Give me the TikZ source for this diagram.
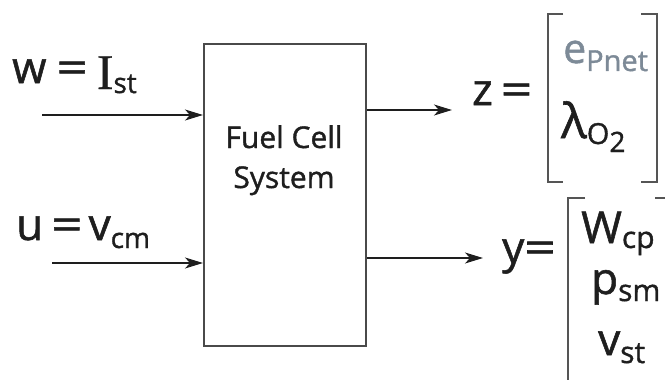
\documentclass[tikz,border=0pt]{standalone}
\usepackage{fontspec}
\setmainfont{Open Sans}[FakeBold=1.2]
\newfontfamily\serfont{Liberation Serif}[FakeBold=0.6]
\usetikzlibrary{arrows.meta}
\usepackage{graphicx}
\definecolor{ink}{HTML}{1E1E1E}
\definecolor{boxgray}{HTML}{4A4A4A}
\definecolor{brgray}{HTML}{555555}
\definecolor{egray}{HTML}{7D8A97}
\newcommand\bigf{\fontsize{44}{44}\selectfont}
\newcommand\subs[3][27]{\raisebox{#2}{\fontsize{#1}{#1}\selectfont #3}}
\newcommand\weq{\scalebox{1.25}[1]{=}}
\begin{document}
\begin{tikzpicture}[x=1pt,y=-1pt,
  lbl/.style={anchor=base west,inner sep=0pt,text=ink,font=\bigf},
  sig/.style={-{Stealth[length=18pt,width=11pt,inset=5pt]},line width=1.5pt,draw=ink},
  brk/.style={draw=brgray,line width=2pt},
  sysbox/.style={draw=boxgray,line width=2pt,minimum width=162pt,minimum height=302pt,inner sep=0pt}]
\useasboundingbox (0,0) rectangle (665,380);
% system block
\node[sysbox] (fcs) at (285,195) {};
\node[anchor=base,inner sep=0pt,text=ink,font=\fontsize{30}{40}\selectfont,align=center] (fcst) at (284,188) {Fuel Cell\\System};
% inputs
\coordinate (win) at (42,115);
\coordinate (uin) at (52,263);
\draw[sig] (win) -- (win -| fcs.west);
\draw[sig] (uin) -- (uin -| fcs.west);
\node[lbl] (wl) at (12,83) {w\hspace{10pt}\weq\hspace{9pt}\raisebox{-6pt}{\serfont\fontsize{50}{50}\selectfont I}\subs[28]{-10pt}{st}};
\node[lbl] (ul) at (16,240) {u\hspace{8pt}\weq\hspace{6pt}v\subs[28]{-8pt}{cm}};
% outputs
\coordinate (zout) at (452,110);
\coordinate (yout) at (483,258);
\draw[sig] (fcs.east |- zout) -- (zout);
\draw[sig] (fcs.east |- yout) -- (yout);
\node[lbl] (zl) at (472,105) {z\hspace{8pt}\weq};
\node[lbl] (yl) at (502,263) {y\weq};
% z vector
\draw[brk] (563,14) -- (548,14) -- (548,182) -- (563,182);
\draw[brk] (641,14) -- (657,14) -- (657,182) -- (641,182);
\node[lbl,text=egray,font=\fontsize{41}{41}\selectfont] (ep) at (563,63) {e\subs[29]{-8pt}{Pnet}};
\node[lbl] (lam) at (561,138) {{\fontsize{48}{48}\selectfont λ}\subs[29]{-6pt}{O\raisebox{-8pt}{\fontsize{28}{28}\selectfont 2}}};
% y vector
\draw[brk] (585,198) -- (568,198) -- (568,385);
\draw[brk] (655,198) -- (668,198);
\node[lbl] (wcp) at (581,243) {W\subs[30]{-5pt}{cp}};
\node[lbl] (psm) at (591,294) {p\subs[30]{-7pt}{sm}};
\node[lbl] (vst) at (598,355) {v\subs[30]{-8pt}{st}};
\end{tikzpicture}
\end{document}
